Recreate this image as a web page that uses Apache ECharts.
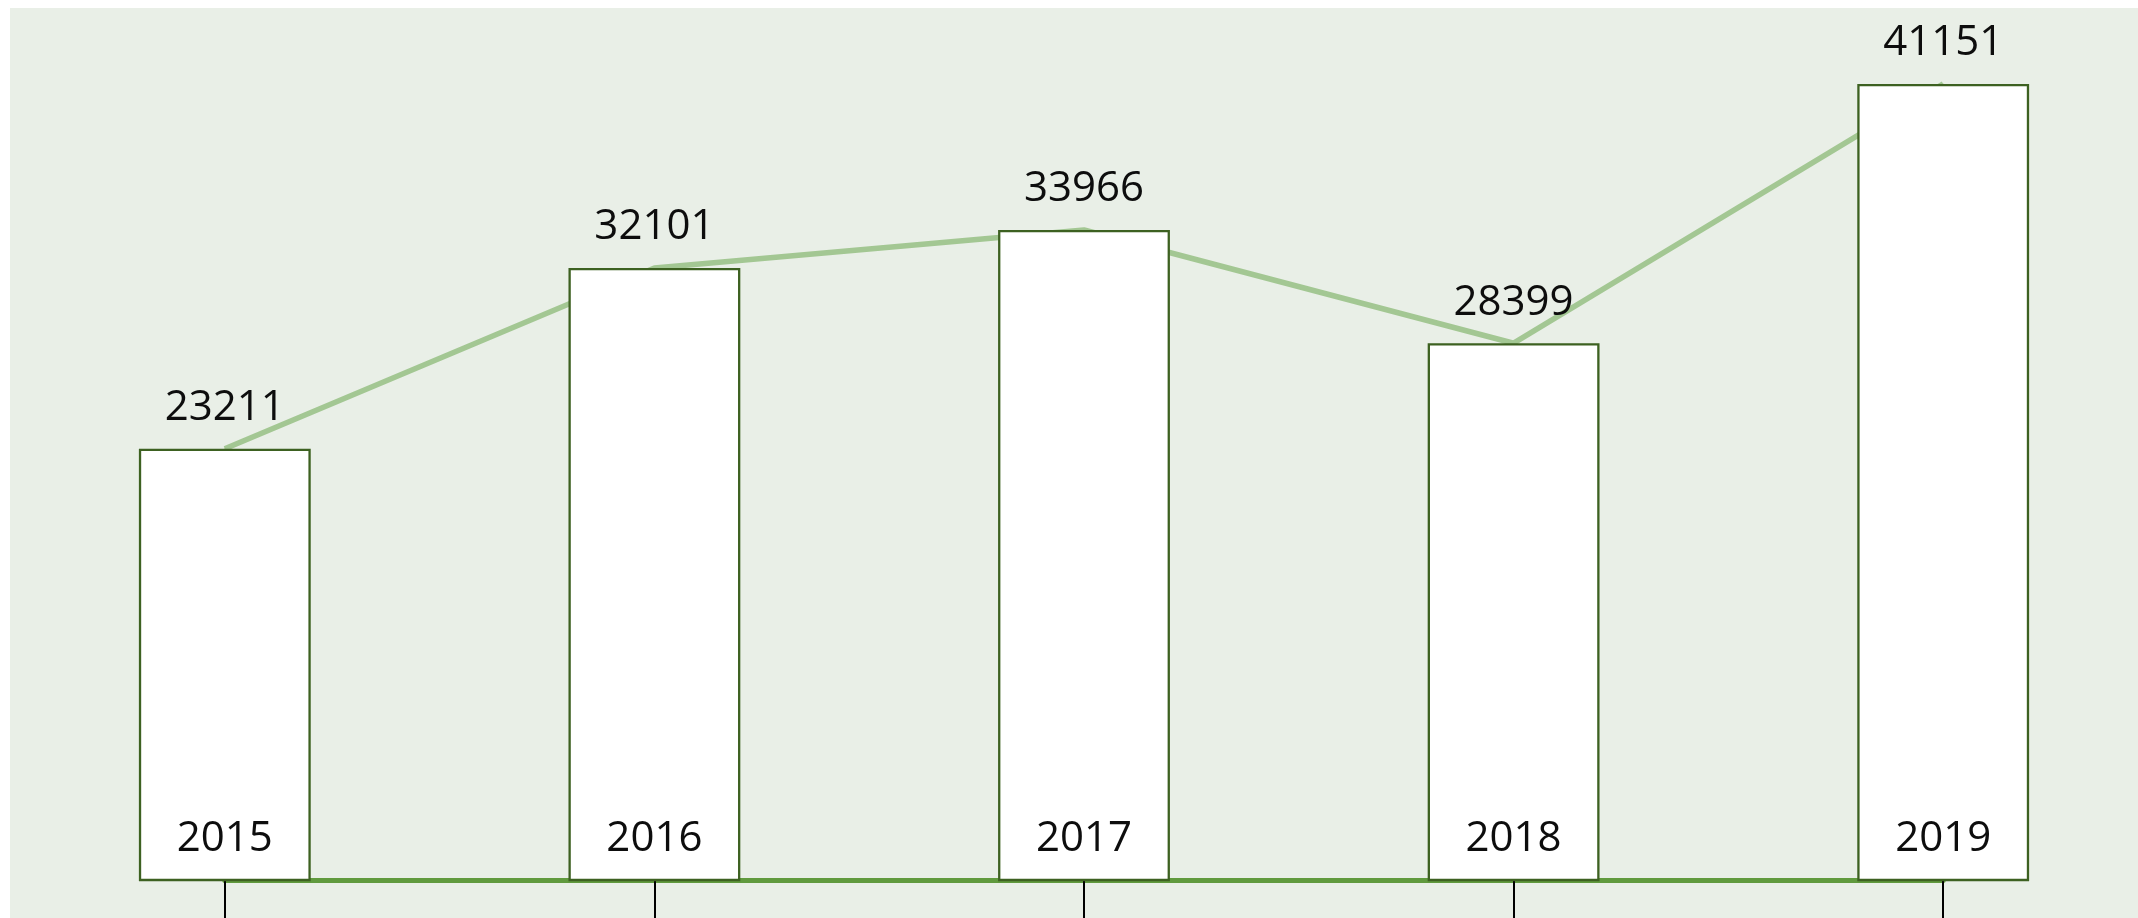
<!DOCTYPE html>
<html>
<head>
<meta charset="utf-8">
<script src="https://cdn.jsdelivr.net/npm/echarts@6/dist/echarts.min.js"></script>
<style>
  html, body { margin: 0; padding: 0; background: #ffffff; overflow: hidden; }
  #grafico { position: absolute; left: 10px; top: 8px; width: 2148px; height: 910px; }
</style>
</head>
<body>
<div id="grafico"></div>
<script>
// datos del gráfico
const anios = ['2015', '2016', '2017', '2018', '2019'];
const valores = [23211, 32101, 33966, 28399, 41151];

const chart = echarts.init(document.getElementById('grafico'), null, { renderer: 'canvas' });

const fuente = 'Open Sans';

const option = {
    backgroundColor: '#E9EFE7',
    animation: false,
    grid: [
        { left: 0, right: 0, top: 18, bottom: 38 },
        // rejilla auxiliar: la línea del eje va del centro de la primera barra al de la última
        { left: '10%', right: '10%', top: 18, bottom: 38 }
    ],
    xAxis: [
        {
            type: 'category',
            data: anios,
            gridIndex: 0,
            axisLine: { show: false },
            axisTick: { show: true, alignWithLabel: true, length: 40, lineStyle: { color: '#000000', width: 2 } },
            axisLabel: { show: false },
            splitLine: { show: false }
        },
        {
            type: 'category',
            data: anios,
            gridIndex: 1,
            boundaryGap: false,
            axisLine: { show: true, lineStyle: { color: '#609A3E', width: 5 } },
            axisTick: { show: false },
            axisLabel: { show: false },
            splitLine: { show: false }
        }
    ],
    yAxis: [
        { type: 'value', gridIndex: 0, min: 2000, max: 44000, show: false, splitLine: { show: false } },
        { type: 'value', gridIndex: 1, min: 2000, max: 44000, show: false, splitLine: { show: false } }
    ],
    series: [
        {
            type: 'line',
            data: valores,
            z: 2,
            symbol: 'circle',
            symbolSize: 1,
            itemStyle: { color: '#A3C793' },
            lineStyle: { color: '#A3C793', width: 5.5 },
            label: {
                show: true,
                position: 'top',
                distance: 19,
                fontFamily: fuente,
                fontSize: 42,
                color: '#0D0D0D'
            }
        },
        {
            type: 'bar',
            data: valores,
            z: 3,
            barWidth: '40%',
            itemStyle: { color: '#ffffff', borderColor: '#3D6121', borderWidth: 2.3 },
            label: {
                show: true,
                position: 'insideBottom',
                distance: 21,
                formatter: '{b}',
                fontFamily: fuente,
                fontSize: 42,
                color: '#0D0D0D'
            }
        }
    ]
};

chart.setOption(option);
</script>
</body>
</html>
